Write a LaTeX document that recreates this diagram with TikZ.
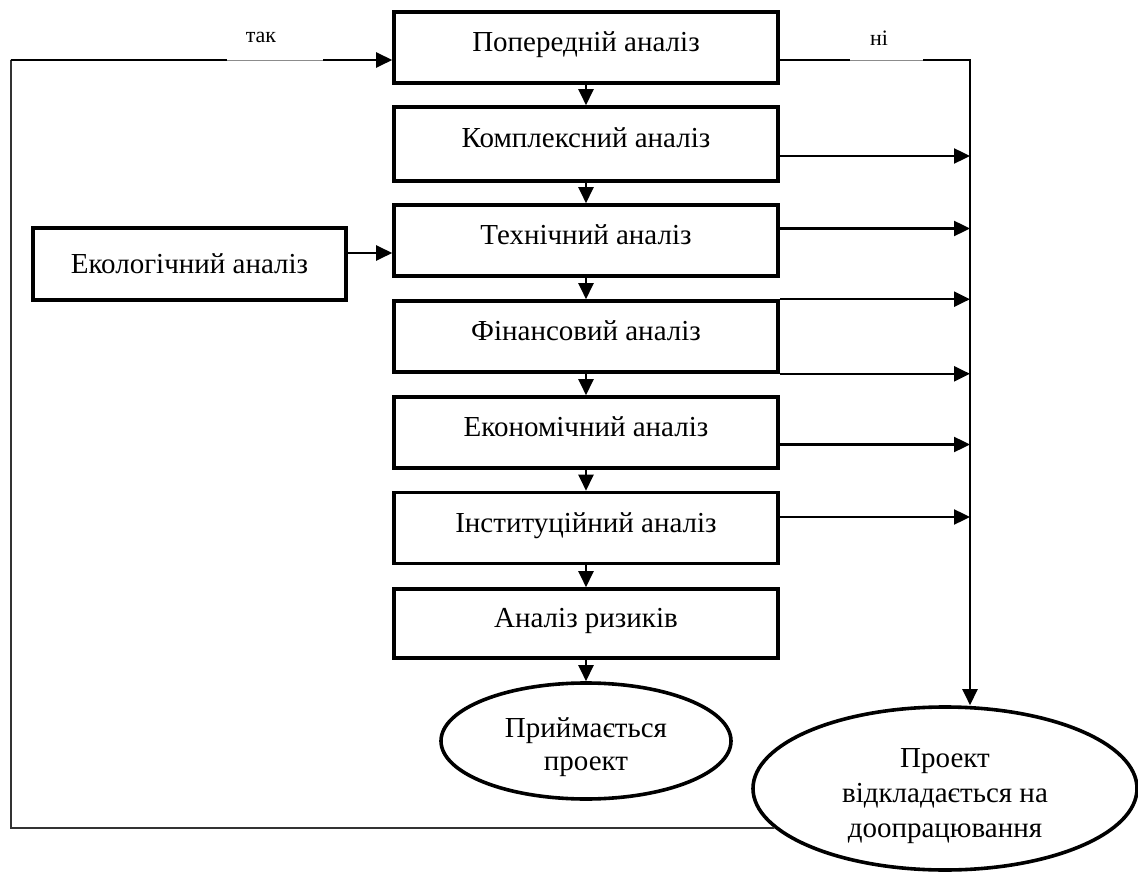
\documentclass[tikz,border=0pt]{standalone}
\usepackage{fontspec}
\setmainfont{Liberation Serif}
\usetikzlibrary{arrows.meta,shapes.geometric}
\newcommand\stagefont{\fontsize{29}{33}\selectfont}
\newcommand\resultfont{\fontsize{29}{35}\selectfont}
\newcommand\tagfont{\fontsize{22}{26}\selectfont}
\begin{document}
\begin{tikzpicture}[x=1pt,y=-1pt,
  stage/.style={draw,line width=3.6pt,minimum width=384pt,minimum height=71pt,
    inner sep=0pt,font=\stagefont,text height=20pt,text depth=12pt},
  outcome/.style={draw,ellipse,line width=3.6pt,inner sep=0pt,align=center},
  flow/.style={line width=2.4pt,-{Triangle[length=16pt,width=15pt]}},
  plain/.style={line width=2.4pt},
  gapline/.style={line width=0.9pt,black!45},
  loopline/.style={line width=1.8pt,black!80},
  tag/.style={font=\tagfont,inner sep=0pt}]
\useasboundingbox (0,0) rectangle (1138,874);

% main chain of analyses
\node[stage] (b1) at (586,47.5) {Попередній аналіз};
\node[stage,minimum height=74pt] (b2) at (586,144) {Комплексний аналіз};
\node[stage] (b3) at (586,240.5) {Технічний аналіз};
\node[stage] (b4) at (586,336.5) {Фінансовий аналіз};
\node[stage] (b5) at (586,432.5) {Економічний аналіз};
\node[stage] (b6) at (586,528) {Інституційний аналіз};
\node[stage,minimum height=69pt] (b7) at (586,623.5) {Аналіз ризиків};

% side input
\node[stage,minimum width=313pt,minimum height=72pt,text depth=0pt] (eco) at (189.5,264) {Екологічний аналіз};

% outcomes
\node[outcome,font=\stagefont,minimum width=290pt,minimum height=116pt,
  text height=64pt,text depth=6pt] (ok) at (586,741) {Приймається\\проект};
\node[outcome,font=\resultfont,minimum width=384pt,minimum height=163pt,
  text height=103pt,text depth=6pt] (rev) at (945,788.5) {Проект\\відкладається на\\доопрацювання};

% downward flow
\foreach \a/\b in {b1/b2,b2/b3,b3/b4,b4/b5,b5/b6,b6/b7,b7/ok}
  \draw[flow] (\a) -- (\b);

% ecological analysis feeds the technical one
\coordinate (ecoOut) at ([yshift=11pt]eco.east);
\draw[flow] (ecoOut) -- (ecoOut -| b3.west);

% "no" branch down the right side
\coordinate (rtop) at (970,60);
\coordinate (niA) at (850,60);
\coordinate (niB) at (923,60);
\draw[plain] (b1.east |- niA) -- (niA);
\draw[gapline] (niA) -- (niB);
\draw[flow] (niB) -- (rtop) -- (rtop |- rev.north);
\node[tag] (ni) at (879,38) {ні};

\coordinate (o2) at ([yshift=-12pt]b2.east);
\coordinate (o3) at ([yshift=12pt]b3.east);
\coordinate (o4a) at (b4.north east);
\coordinate (o4b) at (b4.south east);
\coordinate (o5) at ([yshift=-12pt]b5.east);
\coordinate (o6) at ([yshift=11pt]b6.east);
\foreach \p in {o2,o3,o4a,o4b,o5,o6}
  \draw[flow] (\p) -- (\p -| rtop);

% "yes" loop back to the preliminary analysis
\coordinate (lb) at (11,828);
\coordinate (lt) at (11,60);
\coordinate (takA) at (227,60);
\coordinate (takB) at (323,60);
\draw[loopline] (rev.193) -- (lb) -- (lt);
\draw[plain] (lt) -- (takA);
\draw[gapline] (takA) -- (takB);
\draw[flow] (takB) -- (takB -| b1.west);
\node[tag] (tak) at (261,37) {так};
\end{tikzpicture}
\end{document}
